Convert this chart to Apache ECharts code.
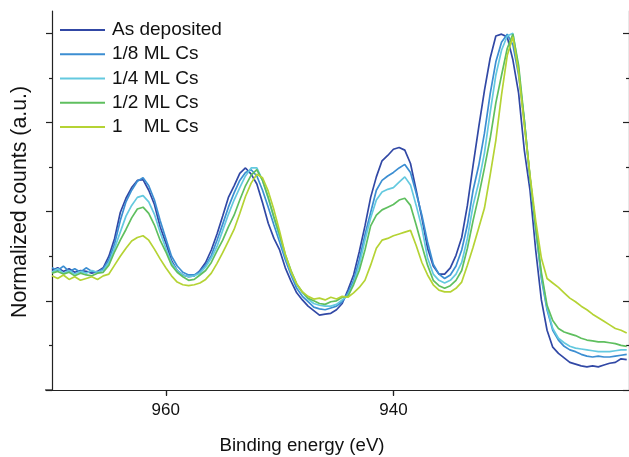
<!DOCTYPE html>
<html><head><meta charset="utf-8">
<script src="https://cdn.jsdelivr.net/npm/echarts@6/dist/echarts.min.js"></script>
<style>html,body{margin:0;padding:0;background:#fff}#c{width:629px;height:457px}</style>
</head><body><div id="c"></div>
<script>
const energy = [970,969.5,969,968.5,968,967.5,967,966.5,966,965.5,
965,964.5,964,963.5,963,962.5,962,961.5,961,960.5,
960,959.5,959,958.5,958,957.5,957,956.5,956,955.5,
955,954.5,954,953.5,953,952.5,952,951.5,951,950.5,
950,949.5,949,948.5,948,947.5,947,946.5,946,945.5,
945,944.5,944,943.5,943,942.5,942,941.5,941,940.5,
940,939.5,939,938.5,938,937.5,937,936.5,936,935.5,
935,934.5,934,933.5,933,932.5,932,931.5,931,930.5,
930,929.5,929,928.5,928,927.5,927,926.5,926,925.5,
925,924.5,924,923.5,923,922.5,922,921.5,921,920.5,
920,919.5];
const seriesNames = ['As deposited','1/8 ML Cs','1/4 ML Cs','1/2 ML Cs','1    ML Cs'];
const asDeposited = [1.34,1.37,1.33,1.36,1.32,1.34,1.33,1.31,1.33,1.37,
1.50,1.70,1.99,2.15,2.27,2.35,2.36,2.24,2.08,1.83,
1.65,1.45,1.34,1.29,1.27,1.28,1.34,1.43,1.57,1.75,
1.95,2.16,2.29,2.43,2.49,2.42,2.31,2.10,1.87,1.70,
1.57,1.37,1.22,1.09,1.01,0.94,0.89,0.84,0.85,0.86,
0.90,0.97,1.12,1.29,1.55,1.84,2.16,2.39,2.57,2.63,
2.70,2.72,2.69,2.54,2.24,1.93,1.59,1.39,1.30,1.30,
1.37,1.51,1.71,2.07,2.52,2.95,3.36,3.72,3.97,3.99,
3.96,3.70,3.33,2.69,2.24,1.57,1.01,0.67,0.48,0.41,
0.36,0.31,0.29,0.27,0.26,0.27,0.26,0.28,0.30,0.31,
0.35,0.34];
const cs1_8 = [1.37,1.34,1.39,1.33,1.36,1.32,1.37,1.33,1.32,1.36,
1.46,1.64,1.90,2.11,2.24,2.34,2.38,2.29,2.13,1.90,
1.70,1.50,1.39,1.32,1.29,1.29,1.33,1.40,1.51,1.68,
1.86,2.05,2.21,2.35,2.44,2.47,2.40,2.24,2.05,1.85,
1.66,1.46,1.29,1.14,1.05,0.99,0.93,0.91,0.90,0.92,
0.94,0.99,1.09,1.23,1.46,1.74,1.99,2.24,2.35,2.40,
2.44,2.49,2.53,2.44,2.21,1.96,1.66,1.41,1.30,1.25,
1.29,1.39,1.57,1.85,2.24,2.52,2.88,3.32,3.68,3.90,
3.99,3.87,3.53,3.03,2.38,1.82,1.25,0.90,0.67,0.56,
0.49,0.45,0.43,0.40,0.38,0.37,0.38,0.37,0.37,0.38,
0.39,0.40];
const cs1_4 = [1.32,1.36,1.31,1.34,1.30,1.33,1.31,1.34,1.32,1.34,
1.43,1.59,1.77,1.95,2.07,2.16,2.18,2.11,1.97,1.77,
1.59,1.43,1.34,1.29,1.27,1.28,1.31,1.38,1.48,1.61,
1.79,1.97,2.13,2.27,2.40,2.49,2.49,2.35,2.15,1.93,
1.71,1.50,1.32,1.18,1.09,1.02,0.97,0.95,0.94,0.94,
0.96,1.01,1.06,1.20,1.40,1.68,1.93,2.13,2.22,2.25,
2.27,2.33,2.39,2.30,2.07,1.82,1.48,1.30,1.23,1.20,
1.23,1.30,1.43,1.70,2.07,2.33,2.66,3.11,3.53,3.81,
3.97,4.00,3.60,3.00,2.38,1.82,1.28,0.92,0.69,0.58,
0.53,0.49,0.47,0.46,0.45,0.44,0.43,0.43,0.43,0.44,
0.45,0.45];
const cs1_2 = [1.31,1.33,1.30,1.32,1.28,1.31,1.29,1.28,1.31,1.32,
1.40,1.55,1.68,1.80,1.93,2.03,2.05,1.98,1.85,1.68,
1.55,1.40,1.32,1.27,1.23,1.24,1.29,1.34,1.43,1.56,
1.68,1.83,1.96,2.13,2.29,2.41,2.47,2.35,2.16,1.94,
1.74,1.52,1.34,1.19,1.10,1.03,1.00,0.97,0.96,0.99,
1.00,1.04,1.05,1.18,1.34,1.57,1.84,1.96,2.02,2.05,
2.08,2.13,2.15,2.07,1.85,1.62,1.40,1.23,1.17,1.14,
1.17,1.23,1.34,1.59,1.90,2.18,2.49,2.82,3.22,3.53,
3.83,3.99,3.64,3.03,2.39,1.82,1.32,0.95,0.78,0.69,
0.65,0.63,0.61,0.58,0.56,0.55,0.54,0.54,0.53,0.52,
0.50,0.49];
const cs1 = [1.28,1.25,1.29,1.24,1.27,1.23,1.25,1.27,1.24,1.28,
1.30,1.40,1.50,1.59,1.67,1.71,1.73,1.68,1.58,1.47,
1.37,1.28,1.21,1.18,1.17,1.18,1.20,1.24,1.31,1.42,
1.54,1.67,1.80,1.98,2.17,2.32,2.42,2.38,2.23,2.02,
1.78,1.52,1.33,1.19,1.10,1.05,1.02,1.03,1.01,1.04,
1.02,1.05,1.04,1.09,1.15,1.23,1.40,1.59,1.68,1.70,
1.73,1.75,1.77,1.79,1.62,1.43,1.29,1.18,1.12,1.10,
1.10,1.14,1.21,1.40,1.60,1.82,2.04,2.41,2.80,3.31,
3.75,3.96,3.56,2.97,2.41,1.90,1.48,1.25,1.20,1.15,
1.09,1.03,0.99,0.94,0.90,0.85,0.81,0.77,0.73,0.69,
0.67,0.64];
const xTicks = [960, 940];
const yMajor = [0, 1, 2, 3, 4];
const yMinor = [0.5, 1.5, 2.5, 3.5];
const colors = ['#3148a5','#3c8ed2','#64c9df','#5fbf5f','#b5d334'];
const allData = [asDeposited, cs1_8, cs1_4, cs1_2, cs1];

const FONT = 'Liberation Sans, Arial, Helvetica, sans-serif';
const AX = '#222';
const chart = echarts.init(document.getElementById('c'));
const xBase = {type:'value', inverse:true, min:919.3, max:970, splitLine:{show:false}};
const yBase = {type:'value', min:0, max:4.25, splitLine:{show:false}, axisLabel:{show:false}};
chart.setOption({
  animation:false,
  backgroundColor:'#fff',
  grid:{left:52, top:11, right:-1, bottom:67, containLabel:false},
  legend:{
    orient:'vertical', left:60, top:20, padding:0, icon:'rect',
    itemWidth:45, itemHeight:2, itemGap:4.25,
    textStyle:{fontFamily:FONT, fontSize:19, color:'#111', lineHeight:20, padding:[0,0,0,2]},
    data:seriesNames
  },
  xAxis:[
    Object.assign({}, xBase, {position:'bottom',
      axisLine:{show:true, lineStyle:{color:AX, width:1.2}},
      axisTick:{show:true, customValues:xTicks, length:6, lineStyle:{color:AX, width:1.2}},
      axisLabel:{show:true, customValues:xTicks, fontFamily:FONT, fontSize:17, color:'#111', margin:12}}),
    Object.assign({}, xBase, {position:'top',
      axisLine:{show:true, lineStyle:{color:AX, width:1.2}},
      axisTick:{show:true, inside:true, customValues:xTicks, length:5, lineStyle:{color:AX, width:1.2}},
      axisLabel:{show:false}})
  ],
  yAxis:[
    Object.assign({}, yBase, {position:'left',
      axisLine:{show:true, lineStyle:{color:AX, width:1.2}},
      axisTick:{show:true, customValues:yMajor, length:6, lineStyle:{color:AX, width:1.2}}}),
    Object.assign({}, yBase, {position:'left',
      axisLine:{show:false},
      axisTick:{show:true, customValues:yMinor, length:3, lineStyle:{color:AX, width:1.2}}}),
    Object.assign({}, yBase, {position:'right',
      axisLine:{show:true, lineStyle:{color:AX, width:1.2}},
      axisTick:{show:true, inside:true, customValues:yMajor, length:6, lineStyle:{color:AX, width:1.2}}}),
    Object.assign({}, yBase, {position:'right',
      axisLine:{show:false},
      axisTick:{show:true, inside:true, customValues:yMinor, length:3, lineStyle:{color:AX, width:1.2}}})
  ],
  graphic:[
    {type:'line', shape:{x1:45, y1:390, x2:52, y2:390}, style:{stroke:AX, lineWidth:1.2}},
    {type:'text', x:302, y:446, style:{text:'Binding energy (eV)', font:'18.7px ' + FONT, fill:'#111', align:'center', verticalAlign:'middle'}},
    {type:'text', x:20, y:202, rotation:Math.PI/2, style:{text:'Normalized counts (a.u.)', font:'21.3px ' + FONT, fill:'#111', align:'center', verticalAlign:'middle'}}
  ],
  series: seriesNames.map((name, i) => ({
    name: name, type:'line', xAxisIndex:0, yAxisIndex:0,
    symbol:'none', showSymbol:false, smooth:false,
    lineStyle:{color:colors[i], width:1.7},
    itemStyle:{color:colors[i]},
    data: energy.map((e, k) => [e, allData[i][k]])
  }))
});
</script></body></html>
